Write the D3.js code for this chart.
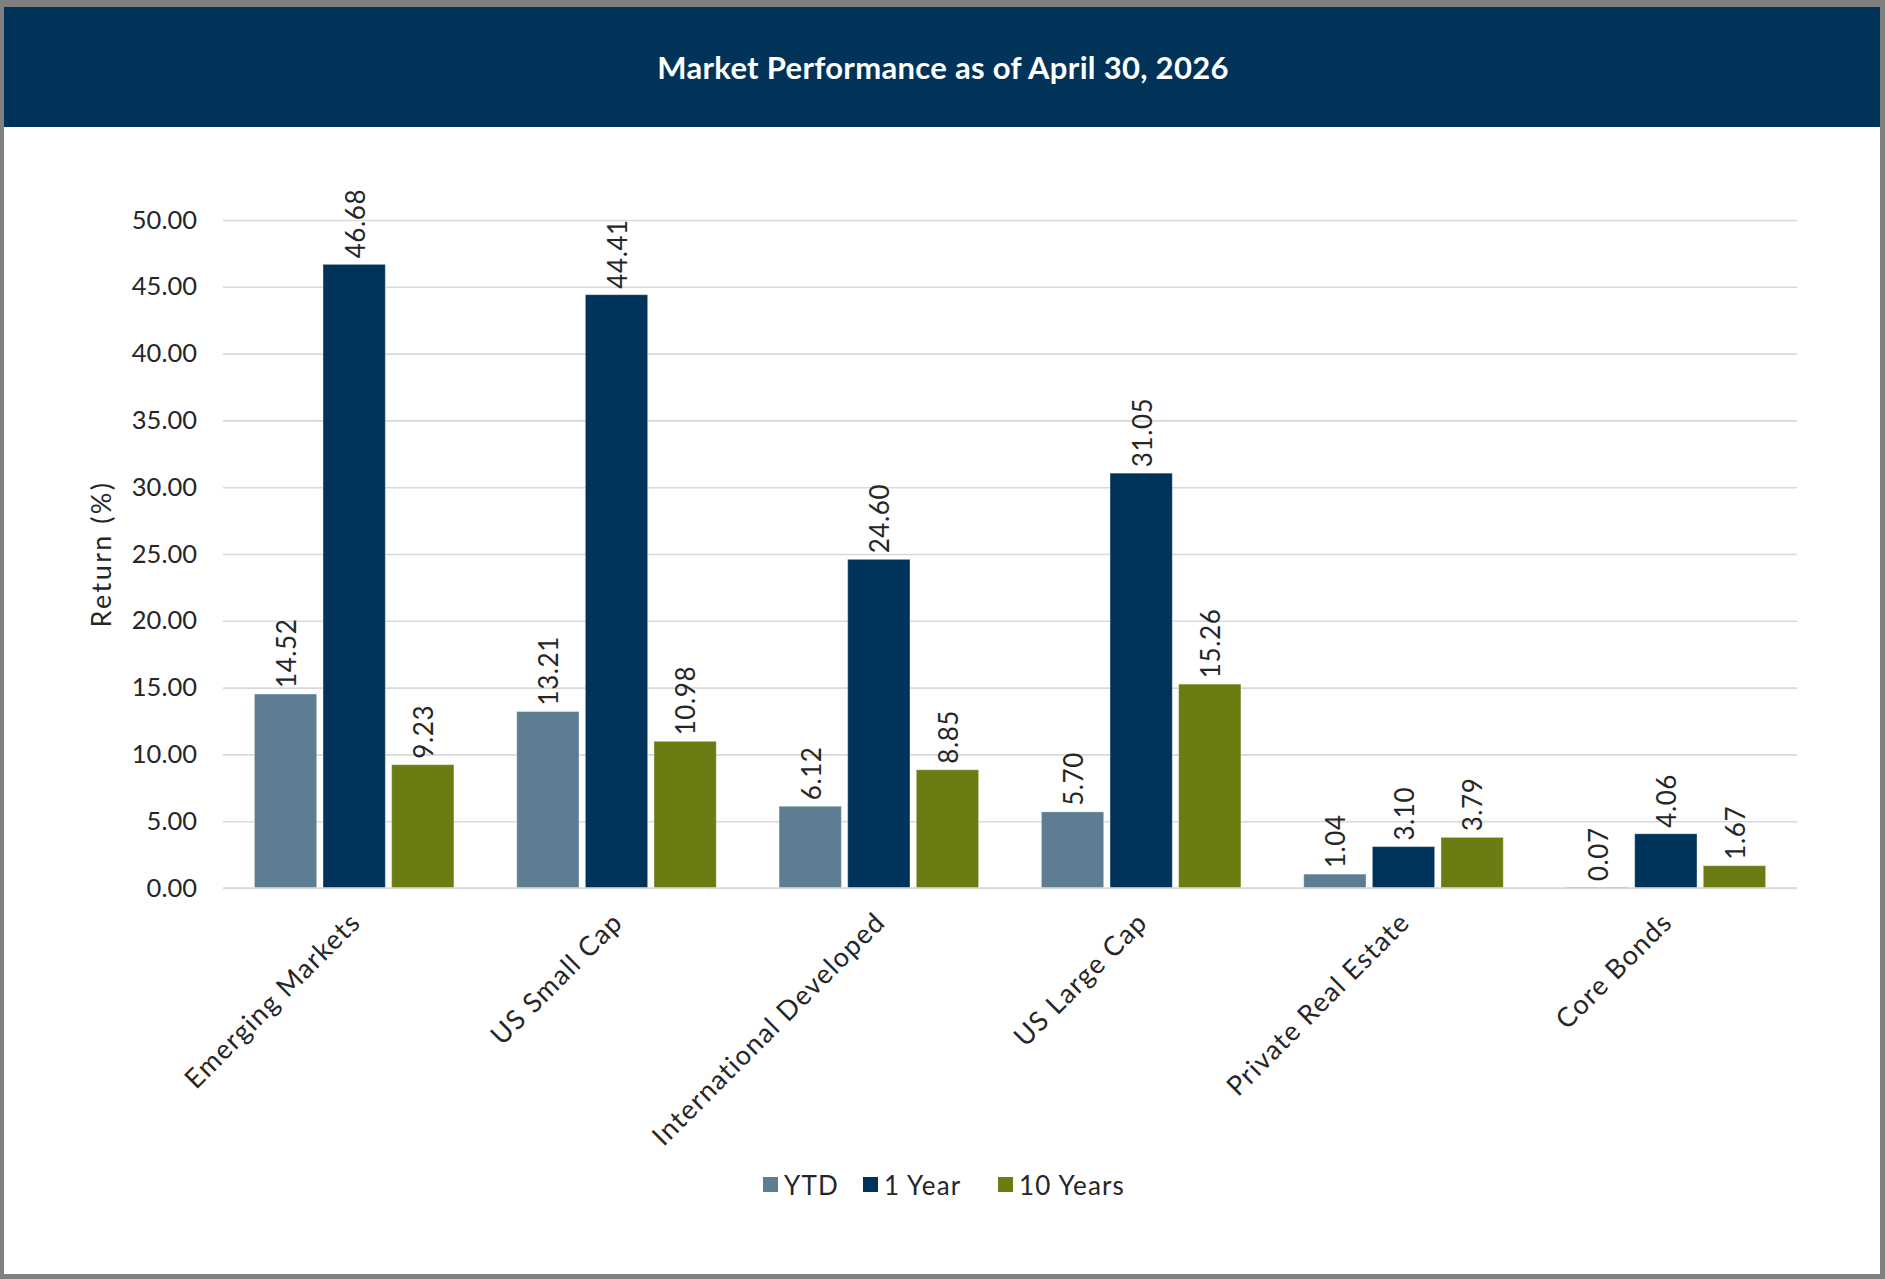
<!DOCTYPE html>
<html>
<head>
<meta charset="utf-8">
<script src="https://cdn.jsdelivr.net/npm/d3@7"></script>
<style>
  html, body { margin: 0; padding: 0; background: #ffffff; }
  svg { display: block; }
  text { font-family: Lato, "Open Sans", sans-serif; }
</style>
</head>
<body>
<svg id="chart" width="1885" height="1279"></svg>
<script>
const title = "Market Performance as of April 30, 2026";
const yAxisTitle = "Return (%)";
const categories = ["Emerging Markets", "US Small Cap", "International Developed", "US Large Cap", "Private Real Estate", "Core Bonds"];
const seriesNames = ["YTD", "1 Year", "10 Years"];
const ytdValues = [14.52, 13.21, 6.12, 5.70, 1.04, 0.07];
const oneYearValues = [46.68, 44.41, 24.60, 31.05, 3.10, 4.06];
const tenYearValues = [9.23, 10.98, 8.85, 15.26, 3.79, 1.67];
const yTicks = [0, 5, 10, 15, 20, 25, 30, 35, 40, 45, 50];
const seriesColors = ["#5d7e92", "#003359", "#6b7c12"];

const seriesValues = [ytdValues, oneYearValues, tenYearValues];
const rows = categories.map((c, i) => ({
  category: c,
  values: seriesNames.map((s, j) => ({ series: s, value: seriesValues[j][i] }))
}));

const W = 1885, H = 1279;
const svg = d3.select("#chart");

// frame
svg.append("rect").attr("x", 0).attr("y", 0).attr("width", W).attr("height", H).attr("fill", "#808080");
svg.append("rect").attr("x", 4).attr("y", 7).attr("width", 1876).attr("height", 1267).attr("fill", "#ffffff");
// title band
svg.append("rect").attr("x", 4).attr("y", 7).attr("width", 1876).attr("height", 120).attr("fill", "#013359");
svg.append("text").attr("x", 943).attr("y", 67)
  .attr("text-anchor", "middle").attr("dominant-baseline", "central")
  .attr("fill", "#ffffff").attr("font-weight", "bold").attr("font-size", 31)
  .attr("letter-spacing", 0.3)
  .text(title);

const plot = { left: 223, right: 1797, top: 220, bottom: 888 };

const y = d3.scaleLinear().domain([0, 50]).range([plot.bottom, plot.top]);
const x0 = d3.scaleBand().domain(categories).range([plot.left, plot.right]).paddingInner(0).paddingOuter(0);
const outerGap = x0.bandwidth() * 0.1197;
const x1 = d3.scaleBand().domain(seriesNames).range([outerGap, x0.bandwidth() - outerGap]).paddingInner(0.092).paddingOuter(0);
const color = d3.scaleOrdinal().domain(seriesNames).range(seriesColors);

// gridlines
const yAxis = d3.axisLeft(y).tickValues(yTicks).tickFormat(d3.format(".2f")).tickSize(-(plot.right - plot.left)).tickPadding(26);
const gy = svg.append("g").attr("transform", `translate(${plot.left},0)`).call(yAxis);
gy.select(".domain").remove();
gy.selectAll(".tick line").attr("stroke", "#d9d9d9").attr("stroke-width", 1.6);
gy.selectAll(".tick text").attr("font-size", 25.5).attr("fill", "#262626").attr("font-family", "Lato, sans-serif");

// y axis title
svg.append("text")
  .attr("transform", `translate(100,${(plot.top + plot.bottom) / 2}) rotate(-90)`)
  .attr("text-anchor", "middle").attr("dominant-baseline", "central")
  .attr("font-size", 27).attr("fill", "#262626").attr("letter-spacing", 2.4)
  .text(yAxisTitle);

// bars
const groups = svg.append("g").selectAll("g").data(rows).join("g")
  .attr("transform", d => `translate(${x0(d.category)},0)`);

groups.selectAll("rect").data(d => d.values).join("rect")
  .attr("x", d => x1(d.series))
  .attr("y", d => y(d.value))
  .attr("width", x1.bandwidth())
  .attr("height", d => y(0) - y(d.value))
  .attr("fill", d => color(d.series))
  .attr("stroke", "#ffffff").attr("stroke-opacity", 0.35).attr("stroke-width", 1);

// data labels
groups.selectAll("text").data(d => d.values).join("text")
  .attr("transform", d => `translate(${x1(d.series) + x1.bandwidth() / 2 + 1},${y(d.value) - 6}) rotate(-90)`)
  .attr("text-anchor", "start").attr("dy", "0.36em")
  .attr("font-size", 26).attr("fill", "#262626").attr("letter-spacing", 0.6)
  .text(d => d3.format(".2f")(d.value));

// x axis baseline
svg.append("line").attr("x1", plot.left).attr("x2", plot.right)
  .attr("y1", y(0)).attr("y2", y(0)).attr("stroke", "#d9d9d9").attr("stroke-width", 1.6);

// category labels
const xAxis = d3.axisBottom(x0).tickSize(0).tickPadding(0);
const gx = svg.append("g").attr("transform", `translate(0,${plot.bottom})`).call(xAxis);
gx.select(".domain").remove();
gx.selectAll(".tick text")
  .attr("transform", "translate(8,36) rotate(-45)")
  .attr("text-anchor", "end").attr("dy", 0).attr("y", 0)
  .attr("font-size", 27).attr("fill", "#262626").attr("letter-spacing", 1.3)
  .attr("font-family", "Lato, sans-serif");

// legend
const legendItems = [
  { name: seriesNames[0], x: 763 },
  { name: seriesNames[1], x: 863 },
  { name: seriesNames[2], x: 998 }
];
const lg = svg.append("g").selectAll("g").data(legendItems).join("g")
  .attr("transform", d => `translate(${d.x},1177)`);
lg.append("rect").attr("width", 15).attr("height", 15).attr("fill", d => color(d.name));
lg.append("text").attr("x", 21).attr("y", 8).attr("dominant-baseline", "central")
  .attr("font-size", 26).attr("fill", "#262626").attr("letter-spacing", 1.2)
  .text(d => d.name);
</script>
</body>
</html>
